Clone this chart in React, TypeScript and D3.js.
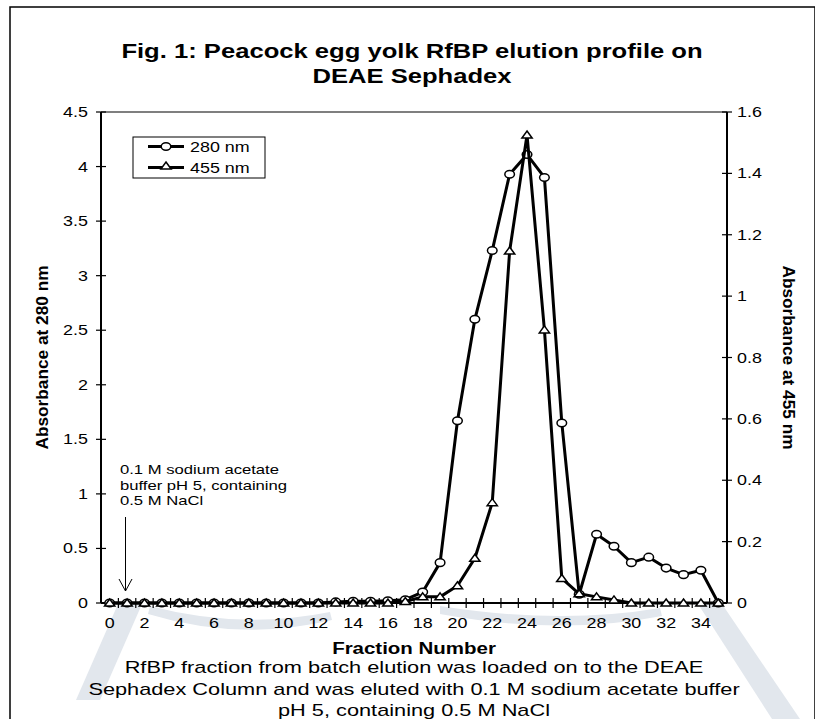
import React from "react";
import * as d3 from "d3";

const fractions = d3.range(0, 36);
const abs280 = [0, 0, 0, 0, 0, 0, 0, 0, 0, 0, 0, 0, 0, 0.01, 0.015, 0.015, 0.02, 0.03, 0.1, 0.37, 1.67, 2.6, 3.23, 3.93, 4.11, 3.9, 1.65, 0.08, 0.63, 0.52, 0.37, 0.42, 0.32, 0.26, 0.3, 0];
const abs455 = [0, 0, 0, 0, 0, 0, 0, 0, 0, 0, 0, 0, 0, 0, 0, 0, 0, 0.005, 0.02, 0.02, 0.056, 0.146, 0.327, 1.147, 1.525, 0.89, 0.08, 0.03, 0.02, 0.01, 0, 0, 0, 0, 0, 0];
const leftTicks = [0, 0.5, 1, 1.5, 2, 2.5, 3, 3.5, 4, 4.5];
const rightTicks = [0, 0.2, 0.4, 0.6, 0.8, 1, 1.2, 1.4, 1.6];
const xLabels = d3.range(0, 35, 2);
const titleLines = ["Fig. 1: Peacock egg yolk RfBP elution profile on", "DEAE Sephadex"];
const noteLines = ["0.1 M sodium acetate", "buffer pH 5, containing", "0.5 M NaCl"];
const captionLines = [
  "RfBP fraction from batch elution was loaded on to the DEAE",
  "Sephadex Column and was eluted with 0.1 M sodium acetate buffer",
  "pH 5, containing 0.5 M NaCl",
];

const FONT = "'Liberation Sans', Arial, sans-serif";
const SX = 1.28;

function T(props: { x: number; y: number; size: number; anchor?: string; bold?: boolean; children: React.ReactNode }) {
  const { x, y, size, anchor = "start", bold = false, children } = props;
  return (
    <g transform={`translate(${x},${y}) scale(${SX},1)`}>
      <text x={0} y={0} textAnchor={anchor as any} fontSize={size} fontWeight={bold ? "bold" : "normal"}>{children}</text>
    </g>
  );
}

export default function App() {
  const W = 815, H = 719;
  const L = 101, R = 727, Tp = 112, B = 603;
  const x = d3.scaleBand<number>().domain(fractions).range([L, R]);
  const cx = (f: number) => (x(f) as number) + x.bandwidth() / 2;
  const yL = d3.scaleLinear().domain([0, 4.5]).range([B, Tp]);
  const yR = d3.scaleLinear().domain([0, 1.6]).range([B, Tp]);
  const line280 = d3.line<number>().x((_, i) => cx(fractions[i])).y((d) => yL(d));
  const line455 = d3.line<number>().x((_, i) => cx(fractions[i])).y((d) => yR(d));
  const tri = (px: number, py: number, s = 4) =>
    `M${px},${py - s}L${px + s * SX},${py + s * 0.75}L${px - s * SX},${py + s * 0.75}Z`;
  const bandEdges = d3.range(1, 36).map((i) => L + i * x.bandwidth());
  const wm = "#e2e7ed";

  return (
    <svg width={W} height={H} style={{ position: "absolute", left: 0, top: 0, background: "#fff" }} fontFamily={FONT}>
      {/* watermark */}
      <g fill={wm} stroke="none">
        <path d="M118,604 L142,604 L100,700 L76,700 Z" />
        <path d="M698,604 L722,604 L800,719 L772,719 Z" />
        <path d="M150,606 Q240,630 330,612 L332,620 Q240,642 148,614 Z" />
        <path d="M440,606 Q560,625 660,608 L662,616 Q560,636 440,614 Z" />
      </g>
      {/* frame */}
      <rect x={10} y={7} width={805} height={730} fill="none" stroke="#000" strokeWidth={1.5} />
      {/* title */}
      {titleLines.map((t, i) => (
        <T key={i} x={412} y={58 + i * 25} size={20} anchor="middle" bold>{t}</T>
      ))}
      {/* axes */}
      <line x1={L} x2={R} y1={Tp} y2={Tp} stroke="#000" strokeWidth={1.2} />
      <line x1={L} x2={L} y1={Tp} y2={B} stroke="#000" strokeWidth={2} />
      <line x1={R} x2={R} y1={Tp} y2={B} stroke="#000" strokeWidth={2} />
      <line x1={L} x2={R} y1={B} y2={B} stroke="#000" strokeWidth={2} />
      {leftTicks.map((t) => (
        <g key={"l" + t}>
          <line x1={L - 5} x2={L + 5} y1={yL(t)} y2={yL(t)} stroke="#000" strokeWidth={1.2} />
          <T x={L - 13} y={yL(t) + 5} size={14} anchor="end">{t}</T>
        </g>
      ))}
      {rightTicks.map((t) => (
        <g key={"r" + t}>
          <line x1={R - 5} x2={R + 5} y1={yR(t)} y2={yR(t)} stroke="#000" strokeWidth={1.2} />
          <T x={R + 10} y={yR(t) + 5} size={14}>{t}</T>
        </g>
      ))}
      {bandEdges.map((e, i) => (
        <line key={"x" + i} x1={e} x2={e} y1={B - 5} y2={B + 5} stroke="#000" strokeWidth={1.2} />
      ))}
      {xLabels.map((f) => (
        <T key={"xl" + f} x={cx(f)} y={628} size={14} anchor="middle">{f}</T>
      ))}
      {/* axis titles */}
      <g transform={`translate(42,${(Tp + B) / 2}) scale(${SX},1) rotate(-90)`}>
        <text x={0} y={0} textAnchor="middle" dominantBaseline="central" fontSize={13.5} fontWeight="bold" textLength={184} lengthAdjust="spacingAndGlyphs">Absorbance at 280 nm</text>
      </g>
      <g transform={`translate(789,${(Tp + B) / 2}) scale(${SX},1) rotate(90)`}>
        <text x={0} y={0} textAnchor="middle" dominantBaseline="central" fontSize={13.5} fontWeight="bold" textLength={184} lengthAdjust="spacingAndGlyphs">Absorbance at 455 nm</text>
      </g>
      <T x={414} y={654} size={16} anchor="middle" bold>Fraction Number</T>
      {/* caption */}
      {captionLines.map((t, i) => (
        <T key={"c" + i} x={414} y={673 + i * 21.5} size={17} anchor="middle">{t}</T>
      ))}
      {/* annotation */}
      {noteLines.map((t, i) => (
        <T key={"n" + i} x={120} y={474 + i * 15.5} size={13}>{t}</T>
      ))}
      <line x1={125.5} x2={125.5} y1={517} y2={591} stroke="#000" strokeWidth={1} />
      <path d="M119,579 L125.5,591 L132,579" fill="none" stroke="#000" strokeWidth={1} />
      {/* series */}
      <path d={line280(abs280) || ""} fill="none" stroke="#000" strokeWidth={3} strokeLinejoin="round" />
      {abs280.map((v, i) => (
        <ellipse key={"c280" + i} cx={cx(fractions[i])} cy={yL(v)} rx={4.8} ry={3.8} fill="#fff" stroke="#000" strokeWidth={1.5} />
      ))}
      <path d={line455(abs455) || ""} fill="none" stroke="#000" strokeWidth={3} strokeLinejoin="round" />
      {abs455.map((v, i) => (
        <path key={"t455" + i} d={tri(cx(fractions[i]), yR(v))} fill="#fff" stroke="#000" strokeWidth={1.5} />
      ))}
      {/* legend */}
      <rect x={133} y={137} width={132} height={41} fill="#fff" stroke="#000" strokeWidth={1} />
      <line x1={148} x2={184} y1={146.5} y2={146.5} stroke="#000" strokeWidth={3} />
      <ellipse cx={166} cy={146.5} rx={4.8} ry={3.8} fill="#fff" stroke="#000" strokeWidth={1.5} />
      <T x={190} y={151.5} size={14}>280 nm</T>
      <line x1={148} x2={184} y1={167.5} y2={167.5} stroke="#000" strokeWidth={3} />
      <path d={tri(166, 166)} fill="#fff" stroke="#000" strokeWidth={1.5} />
      <T x={190} y={172.5} size={14}>455 nm</T>
    </svg>
  );
}
